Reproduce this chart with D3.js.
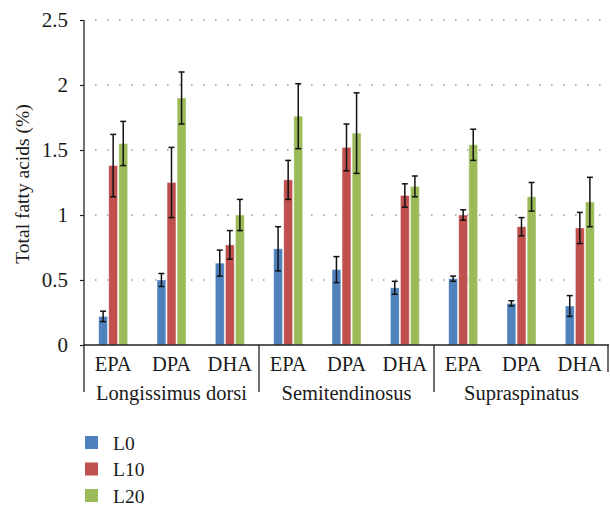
<!DOCTYPE html>
<html><head><meta charset="utf-8">
<script src="https://cdn.jsdelivr.net/npm/d3@7/dist/d3.min.js"></script>
<style>body{margin:0;background:#fff}svg{display:block}</style>
</head><body><svg id="c" width="610" height="505" font-family="Liberation Serif, serif"></svg>
<script>
const groups = ["Longissimus dorsi","Semitendinosus","Supraspinatus"];
const acids = ["EPA","DPA","DHA"];
const series = ["L0","L10","L20"];
const colors = ["#4F81BD","#C0504D","#9BBB59"];
// values per category (9 categories: group x acid), per series
const L0  = [0.22,0.50,0.63, 0.74,0.58,0.44, 0.51,0.32,0.30];
const L10 = [1.38,1.25,0.77, 1.27,1.52,1.15, 1.00,0.91,0.90];
const L20 = [1.55,1.90,1.00, 1.76,1.63,1.22, 1.54,1.14,1.10];
const L0err  = [0.04,0.05,0.10, 0.17,0.10,0.05, 0.02,0.02,0.08];
const L10err = [0.24,0.27,0.11, 0.15,0.18,0.09, 0.04,0.07,0.12];
const L20err = [0.17,0.20,0.12, 0.25,0.31,0.08, 0.12,0.11,0.19];
const yTicks = [0,0.5,1,1.5,2,2.5];
const yTickLabels = ["0","0.5","1","1.5","2","2.5"];

const FONT='"Liberation Serif", "Times New Roman", serif';
const FS=20.5;
const vals=[L0,L10,L20], errs=[L0err,L10err,L20err];
const cats=[]; groups.forEach(g=>acids.forEach(a=>cats.push(g+"|"+a)));

const svg=d3.select("#c");
const x0=84, x1=609, yTop=20, yBot=345;
const x=d3.scaleBand().domain(cats).range([x0,x1]);
const y=d3.scaleLinear().domain([0,2.5]).range([yBot,yTop]);
const xs=d3.scaleBand().domain(series).range([0,29]).paddingInner(0.12);

// gridlines
svg.append("g").selectAll("line").data(yTicks.filter(t=>t>0)).join("line")
  .attr("x1",x0+11).attr("x2",x1).attr("y1",d=>y(d)).attr("y2",d=>y(d))
  .attr("stroke","#999").attr("stroke-width",1.3).attr("stroke-dasharray","1.5,10.5");

// y axis
const ya=d3.axisLeft(y).tickValues(yTicks).tickFormat((d,i)=>yTickLabels[i]).tickSize(4).tickPadding(12);
const yg=svg.append("g").attr("transform",`translate(${x0},0)`).call(ya);
yg.attr("font-family",null).attr("font-size",null);
yg.select(".domain").remove();
yg.selectAll("line").attr("stroke","#222").attr("stroke-width",1.2);
yg.selectAll("text").attr("font-size",21).style("font-family",FONT).attr("fill","#1a1a1a").attr("dy","0.33em");
svg.append("line").attr("x1",x0).attr("x2",x0).attr("y1",yTop).attr("y2",392).attr("stroke","#222").attr("stroke-width",1.3);

// bars
series.forEach((s,si)=>{
  const off=(x.bandwidth()-29)/2+xs(s);
  svg.append("g").selectAll("rect").data(cats).join("rect")
    .attr("x",d=>x(d)+off).attr("width",xs.bandwidth())
    .attr("y",(d,i)=>y(vals[si][i])).attr("height",(d,i)=>yBot-y(vals[si][i]))
    .attr("fill",colors[si]).attr("stroke","#fff").attr("stroke-opacity",0.5).attr("stroke-width",0.8);
  const eg=svg.append("g").attr("stroke","#111").attr("stroke-width",1.5);
  cats.forEach((d,i)=>{
    const cx=x(d)+off+xs.bandwidth()/2, v=vals[si][i], e=errs[si][i];
    eg.append("line").attr("x1",cx).attr("x2",cx).attr("y1",y(v+e)).attr("y2",y(v-e));
    eg.append("line").attr("x1",cx-3).attr("x2",cx+3).attr("y1",y(v+e)).attr("y2",y(v+e));
    eg.append("line").attr("x1",cx-3).attr("x2",cx+3).attr("y1",y(v-e)).attr("y2",y(v-e));
  });
});

// x axis
svg.append("line").attr("x1",x0).attr("x2",x1).attr("y1",yBot).attr("y2",yBot).attr("stroke","#222").attr("stroke-width",1.3);
const gw=(x1-x0)/3;
[1,2].forEach(k=>svg.append("line").attr("x1",x0+gw*k).attr("x2",x0+gw*k).attr("y1",yBot).attr("y2",392).attr("stroke","#222").attr("stroke-width",1.3));
svg.append("line").attr("x1",x1-1).attr("x2",x1-1).attr("y1",yBot).attr("y2",372).attr("stroke","#222").attr("stroke-width",1.3);
svg.append("g").selectAll("text").data(cats).join("text")
  .attr("x",d=>x(d)+x.bandwidth()/2).attr("y",371).attr("text-anchor","middle")
  .attr("font-size",FS).style("font-family",FONT).attr("fill","#1a1a1a")
  .text(d=>d.split("|")[1]);
svg.append("g").selectAll("text").data(groups).join("text")
  .attr("x",(d,i)=>x0+gw*i+gw/2).attr("y",400).attr("text-anchor","middle")
  .attr("font-size",FS).style("font-family",FONT).attr("fill","#1a1a1a").text(d=>d);

// y label
svg.append("text").attr("transform","translate(29,184) rotate(-90)").attr("text-anchor","middle")
  .attr("font-size",19.5).style("font-family",FONT).attr("fill","#1a1a1a").text("Total fatty acids (%)");

// legend
const lg=svg.append("g");
series.forEach((s,i)=>{
  lg.append("rect").attr("x",85).attr("y",436+i*26.5).attr("width",13).attr("height",13).attr("fill",colors[i]);
  lg.append("text").attr("x",113).attr("y",449.5+i*26.5).attr("font-size",19.5).style("font-family",FONT).attr("fill","#1a1a1a").text(s);
});
</script></body></html>
